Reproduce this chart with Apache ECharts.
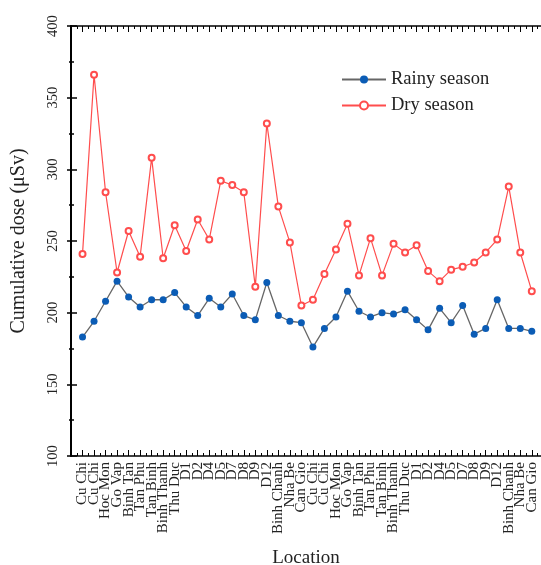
<!DOCTYPE html>
<html><head><meta charset="utf-8">
<script src="https://cdn.jsdelivr.net/npm/echarts@6/dist/echarts.min.js"></script>
<style>html,body{margin:0;padding:0;background:#fff}#c{width:541px;height:565px}</style>
</head><body><div id="c"></div>
<script>
var locations = ["Cu Chi","Cu Chi","Hoc Mon","Go Vap","Binh Tan","Tan Phu","Tan Binh","Binh Thanh","Thu Duc","D1","D2","D4","D5","D7","D8","D9","D12","Binh Chanh","Nha Be","Can Gio",
"Cu Chi","Cu Chi","Hoc Mon","Go Vap","Binh Tan","Tan Phu","Tan Binh","Binh Thanh","Thu Duc","D1","D2","D4","D5","D7","D8","D9","D12","Binh Chanh","Nha Be","Can Gio"];
var rainy = [183,194,208,222,211,204,209,209,214,204,198,210,204,213,198,195,221,198,194,193,
176,189,197,215,201,197,200,199,202,195,188,203,193,205,185,189,209,189,189,187];
var dry = [241,366,284,228,257,239,308,238,261,243,265,251,292,289,284,218,332,274,249,205,
209,227,244,262,226,252,226,248,242,247,229,222,230,232,235,242,251,288,242,215];
var yTicks = [100,150,200,250,300,350,400];

var font = "Liberation Serif";
function pts(arr){ return arr.map(function(v,i){ return [i+1, v]; }); }

var chart = echarts.init(document.getElementById('c'), null, {renderer:'canvas'});
chart.setOption({
  animation:false,
  backgroundColor:'#fff',
  grid:{left:71, right:0, top:26, bottom:109, containLabel:false, outerBoundsMode:'none'},
  legend:{
    orient:'vertical', left:336, top:65, itemWidth:44, itemHeight:10, itemGap:7,
    textStyle:{fontFamily:font, fontSize:18.5, color:'#222'},
    data:['Rainy season','Dry season']
  },
  xAxis:[{
    type:'value', min:0, max:40.8, interval:1, position:'bottom',
    name:'Location', nameLocation:'middle', nameGap:93,
    nameTextStyle:{fontFamily:font, fontSize:19, color:'#222'},
    axisLine:{show:true, onZero:false, lineStyle:{color:'#000', width:1.5}},
    axisTick:{show:true, inside:true, length:6, lineStyle:{color:'#000', width:1}},
    minorTick:{show:true, splitNumber:2, length:3, lineStyle:{color:'#000', width:1}},
    splitLine:{show:false},
    axisLabel:{rotate:90, interval:0, margin:6, fontFamily:font, fontSize:15, color:'#222',
      showMinLabel:false, showMaxLabel:false, hideOverlap:false,
      formatter:function(v){ var k=Math.round(v); return (k>=1 && k<=locations.length)? locations[k-1] : ''; }}
  },{
    type:'value', min:0, max:40.8, interval:1, position:'top',
    axisLine:{show:true, onZero:false, lineStyle:{color:'#000', width:1.5}},
    axisTick:{show:true, inside:true, length:6, lineStyle:{color:'#000', width:1}},
    minorTick:{show:true, splitNumber:2, length:3, lineStyle:{color:'#000', width:1}},
    splitLine:{show:false}, axisLabel:{show:false}
  }],
  yAxis:[{
    type:'value', min:yTicks[0], max:yTicks[yTicks.length-1], interval:50,
    name:'Cumulative dose (μSv)', nameLocation:'middle', nameGap:42,
    nameTextStyle:{fontFamily:font, fontSize:20, color:'#222'},
    axisLine:{show:true, onZero:false, lineStyle:{color:'#000', width:2}},
    axisTick:{show:true, inside:false, length:4, lineStyle:{color:'#000', width:1.5}},
    minorTick:{show:true, splitNumber:2, length:2, lineStyle:{color:'#000', width:1.5}},
    splitLine:{show:false},
    axisLabel:{rotate:90, margin:10, fontFamily:font, fontSize:14.5, color:'#222'}
  },{
    type:'value', min:yTicks[0], max:yTicks[yTicks.length-1], interval:50, position:'left',
    axisLine:{show:false, onZero:false},
    axisTick:{show:true, inside:true, length:6, lineStyle:{color:'#000', width:1.5}},
    minorTick:{show:true, splitNumber:2, length:3, lineStyle:{color:'#000', width:1.5}},
    splitLine:{show:false}, axisLabel:{show:false}
  }],
  series:[{
    name:'Rainy season', type:'line', data:pts(rainy), symbol:'circle', symbolSize:7,
    lineStyle:{color:'#666', width:1.3},
    itemStyle:{color:'#0b5cb5', borderWidth:0},
    z:3
  },{
    name:'Dry season', type:'line', data:pts(dry), symbol:'emptyCircle', symbolSize:6,
    lineStyle:{color:'#ff4d4d', width:1.2},
    itemStyle:{color:'#ff4d4d', borderColor:'#ff4d4d', borderWidth:1.5},
    z:2
  }]
});
</script></body></html>
